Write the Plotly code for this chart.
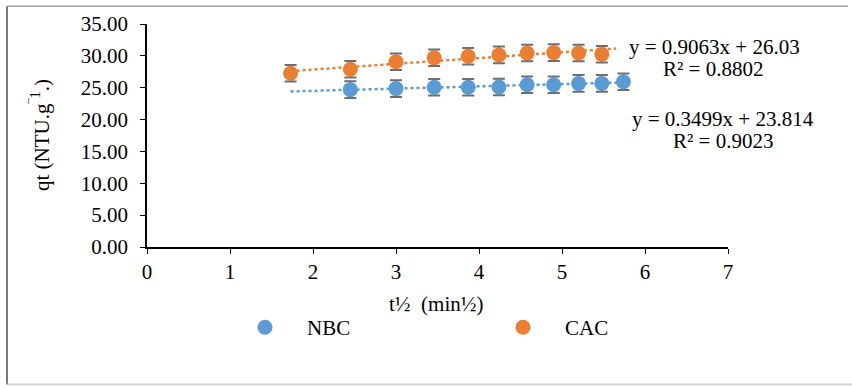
import plotly.graph_objects as go
import numpy as np

# Data
cac_x = [1.73, 2.45, 3.00, 3.46, 3.87, 4.24, 4.58, 4.90, 5.20, 5.48]
cac_y = [27.27, 27.89, 29.08, 29.69, 29.94, 30.15, 30.46, 30.51, 30.46, 30.25]
cac_err = [1.3, 1.3, 1.3, 1.3, 1.3, 1.3, 1.3, 1.3, 1.3, 1.3]

nbc_x = [2.45, 3.00, 3.46, 3.87, 4.24, 4.58, 4.90, 5.20, 5.48, 5.74]
nbc_y = [24.70, 24.86, 25.07, 25.07, 25.12, 25.47, 25.47, 25.68, 25.68, 25.93]
nbc_err = [1.3, 1.3, 1.3, 1.3, 1.3, 1.3, 1.3, 1.3, 1.3, 1.3]

# Trendlines (linear fits shown on chart)
cac_fit = {"slope": 0.9063, "intercept": 26.03, "r2": 0.8802, "x_range": [1.73, 5.65]}
nbc_fit = {"slope": 0.3499, "intercept": 23.814, "r2": 0.9023, "x_range": [1.73, 5.74]}

blue = "#5B9BD5"
orange = "#ED7D31"
errc = "#6e6e6e"
font_family = "Liberation Serif, Times New Roman, serif"
FS = 21

# plot area geometry in pixels (for paper-coordinate conversions)
L, R, T, B = 147, 728, 20, 247
def px(xp):
    return (xp - L) / (R - L)
def py(yp):
    return (B - yp) / (B - T)

fig = go.Figure()

for fit, col in [(nbc_fit, blue), (cac_fit, orange)]:
    tx = np.linspace(fit["x_range"][0], fit["x_range"][1], 50)
    ty = fit["slope"] * tx + fit["intercept"]
    fig.add_trace(go.Scatter(x=tx, y=ty, mode="lines", showlegend=False,
                             line=dict(color=col, width=2.5, dash="dot"),
                             hoverinfo="skip"))

fig.add_trace(go.Scatter(x=nbc_x, y=nbc_y, mode="markers", name="NBC", legend="legend",
                         marker=dict(color=blue, size=15),
                         error_y=dict(type="data", array=nbc_err, color=errc,
                                      thickness=2, width=6)))
fig.add_trace(go.Scatter(x=cac_x, y=cac_y, mode="markers", name="CAC", legend="legend2",
                         marker=dict(color=orange, size=15),
                         error_y=dict(type="data", array=cac_err, color=errc,
                                      thickness=2, width=6)))

ann_font = dict(family=font_family, size=FS, color="black")
ac = dict(xref="paper", yref="paper", showarrow=False, xanchor="center",
          yanchor="middle", font=ann_font)
annotations = [
    dict(x=px(714), y=py(43), text=f"y = {cac_fit['slope']}x + {cac_fit['intercept']}", **ac),
    dict(x=px(713), y=py(66), text=f"R² = {cac_fit['r2']}", **ac),
    dict(x=px(723), y=py(117), text=f"y = {nbc_fit['slope']}x + {nbc_fit['intercept']}", **ac),
    dict(x=px(723), y=py(139), text=f"R² = {nbc_fit['r2']}", **ac),
    dict(x=px(40), y=py(133), textangle=-90, text="qt (NTU.g<sup>‾1</sup>.)", **ac),
    dict(x=px(436), y=py(305), text="t½  (min½)", **ac),
]

leg_common = dict(orientation="h", yanchor="middle", xanchor="left", itemwidth=74,
                  font=dict(family=font_family, size=FS, color="black"),
                  bgcolor="rgba(0,0,0,0)")

fig.update_layout(
    width=852, height=388,
    margin=dict(l=L, r=852 - R, t=T, b=388 - B),
    paper_bgcolor="white", plot_bgcolor="white",
    font=dict(family=font_family, size=FS, color="black"),
    annotations=annotations,
    showlegend=True,
    legend=dict(x=px(223), y=py(329), **leg_common),
    legend2=dict(x=px(481), y=py(329), **leg_common),
    shapes=[
        dict(type="line", xref="paper", yref="paper", x0=px(7), x1=px(7),
             y0=py(2), y1=py(387), line=dict(color="#7a7a7a", width=2)),
        dict(type="line", xref="paper", yref="paper", x0=px(7), x1=px(848),
             y0=py(2), y1=py(2), line=dict(color="#a0a0a0", width=1.5)),
        dict(type="line", xref="paper", yref="paper", x0=px(7), x1=px(852),
             y0=py(387), y1=py(387), line=dict(color="#d0d0d0", width=2)),
    ],
)

fig.update_xaxes(range=[0, 7], tickmode="linear", tick0=0, dtick=1,
                 showgrid=False, zeroline=False, showline=True, linecolor="black",
                 linewidth=1.5, ticks="outside", ticklen=5, tickcolor="black",
                 tickfont=dict(family=font_family, size=FS))
fig.update_yaxes(range=[0, 35], tickmode="linear", tick0=0, dtick=5,
                 tickformat=".2f", showgrid=False, zeroline=False, showline=True,
                 linecolor="black", linewidth=1.5, ticks="outside", ticklen=5,
                 tickcolor="black", ticklabelstandoff=8,
                 tickfont=dict(family=font_family, size=FS))

fig.write_html("out.html")
